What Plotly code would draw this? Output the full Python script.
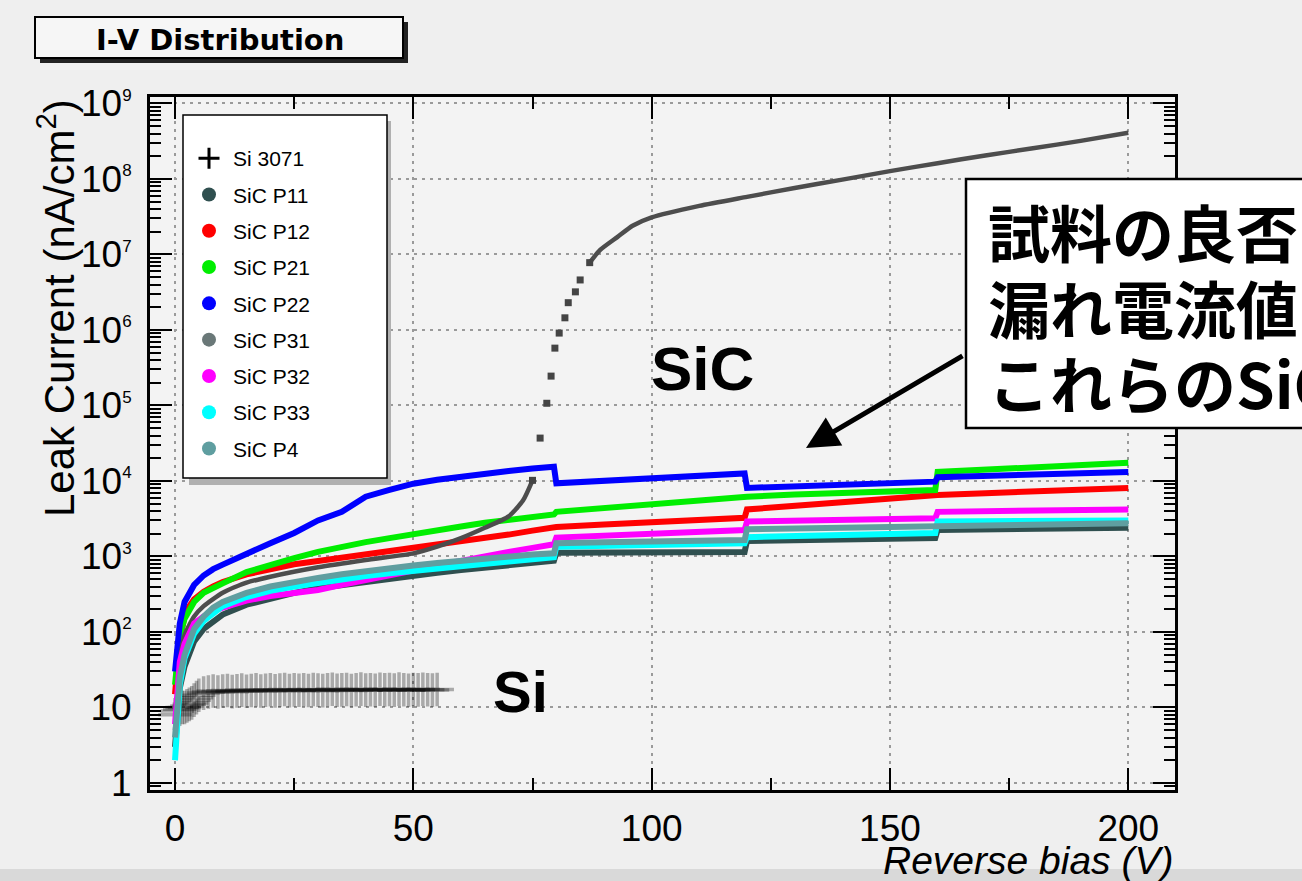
import plotly.graph_objects as go

# ---------------- data ----------------
SI_V = [0, 0.5, 1, 1.5, 2, 2.5, 3, 3.5, 4, 4.5, 5,
        6, 7, 8, 9, 10, 11, 12, 13, 14, 15, 16, 17, 18, 19, 20,
        21, 22, 23, 24, 25, 26, 27, 28, 29, 30, 31, 32, 33, 34, 35,
        36, 37, 38, 39, 40, 41, 42, 43, 44, 45, 46, 47, 48, 49, 50,
        51, 52, 53, 54, 55]
SI_I = [8.0, 9.0, 9.5, 10.0, 10.0, 10.5, 11.0, 11.5, 12.5, 13.5, 14.5,
        15.5, 16.0, 16.5, 16.0, 16.5, 16.8, 16.2, 16.6, 17.0, 16.4,
        16.8, 17.1, 16.5, 16.9, 17.2, 16.6, 17.0, 17.3, 16.7, 17.1,
        16.9, 17.2, 16.8, 17.3, 17.0, 16.7, 17.2, 17.4, 16.9, 17.1,
        17.3, 16.8, 17.2, 17.5, 17.0, 17.2, 16.9, 17.4, 17.1, 17.3,
        17.0, 17.5, 17.2, 16.9, 17.3, 17.1, 17.4, 17.2, 17.0, 17.3]

SIC_V = [0, 0.5, 1, 2, 3, 4, 6, 8, 10, 15, 20, 25, 30, 35, 40, 45, 50, 55, 60, 65,
         70, 75, 79.5, 80, 90, 100, 110, 119.5, 120, 130, 140, 150, 159.5, 160,
         170, 180, 190, 200]

P11 = [3, 10, 18, 35, 55, 75, 110, 140, 170, 230, 280, 330, 380, 420, 470, 510, 560, 610, 660, 710,
       770, 830, 880, 1120, 1130, 1140, 1145, 1150, 1600, 1640, 1680, 1720, 1750, 2250,
       2290, 2330, 2370, 2400]
P12 = [15, 40, 80, 160, 220, 270, 340, 400, 460, 580, 690, 790, 870, 960, 1050, 1150, 1270, 1420, 1580, 1750,
       1950, 2200, 2400, 2450, 2650, 2850, 3050, 3250, 4200, 4700, 5300, 5900, 6500, 6500,
       6900, 7300, 7700, 8100]
P21 = [20, 50, 90, 150, 200, 250, 330, 390, 440, 620, 780, 950, 1150, 1350, 1550, 1750, 2000, 2250, 2500, 2800,
       3100, 3400, 3600, 3900, 4400, 5000, 5600, 6200, 6200, 6600, 7000, 7300, 7600, 13200,
       14200, 15300, 16300, 17400]
P22 = [30, 80, 130, 250, 330, 420, 560, 680, 780, 1100, 1500, 2050, 3000, 3900, 6200, 7600, 9200, 10400, 11500, 12600,
       13600, 14600, 15400, 9300, 10000, 10900, 11800, 12600, 8100, 8500, 9000, 9400, 9800, 11200,
       11700, 12200, 12700, 13200]
P32 = [6, 20, 40, 70, 100, 130, 160, 190, 210, 260, 300, 330, 360, 420, 480, 560, 650, 760, 880, 1000,
       1150, 1300, 1450, 1780, 1880, 2000, 2120, 2240, 2900, 2980, 3050, 3130, 3200, 3900,
       3980, 4050, 4120, 4200]
P33 = [2, 8, 20, 45, 70, 95, 140, 180, 220, 290, 350, 400, 450, 500, 550, 600, 650, 700, 750, 800,
       860, 920, 980, 1350, 1390, 1420, 1460, 1500, 1800, 1860, 1920, 1990, 2050, 2900,
       2930, 2950, 2980, 3000]
P4 = [4, 12, 25, 50, 80, 110, 160, 210, 250, 330, 400, 460, 520, 580, 640, 700, 760, 820, 880, 940,
      1000, 1060, 1100, 1500, 1540, 1580, 1620, 1650, 2300, 2350, 2400, 2450, 2500, 2600,
      2640, 2680, 2720, 2750]

P31_V = [0, 1, 2, 4, 6, 10, 15, 20, 30, 40, 50, 55, 60, 65, 70, 73, 75, 76.6, 78, 78.9,
         79.7, 80.6, 81.8, 82.5, 84, 85, 87, 89.2, 92.8, 96, 100, 110, 120, 130, 140,
         150, 160, 170, 180, 190, 200]
P31 = [5, 40, 90, 160, 220, 330, 450, 540, 720, 900, 1100, 1350, 1750, 2400, 3400, 5500, 1.02e4, 3.7e4, 1.07e5, 2.45e5,
       5.75e5, 9.1e5, 1.45e6, 2.3e6, 3.2e6, 4.6e6, 7.8e6, 1.15e7, 1.7e7, 2.4e7, 3.1e7, 4.4e7, 5.8e7, 7.6e7, 9.8e7,
       1.27e8, 1.62e8, 2.05e8, 2.55e8, 3.2e8, 4.1e8]

SERIES = [("SiC P11", P11, "#2f4f4f"), ("SiC P12", P12, "#ff0000"), ("SiC P21", P21, "#00ee00"),
          ("SiC P22", P22, "#0000ff")]
SERIES_B = [("SiC P32", P32, "#ff00ff"), ("SiC P33", P33, "#00ffff"), ("SiC P4", P4, "#5f9ea0")]

X_TICKS = [0, 50, 100, 150, 200]
Y_TICKS = [1, 10, 1e2, 1e3, 1e4, 1e5, 1e6, 1e7, 1e8, 1e9]
Y_EXP = ["", "", "2", "3", "4", "5", "6", "7", "8", "9"]

# ---------------- layout helpers (pixel -> paper) ----------------
L, R, T, B = 150, 1175, 97, 790
W, H = 1302, 881


def px(x):
    return (x - L) / (R - L)


def py(y):
    return (B - y) / (B - T)


fig = go.Figure()

# Si 3071 crosses
fig.add_trace(go.Scatter(x=SI_V, y=SI_I, mode="markers", showlegend=False,
                         marker=dict(symbol="cross-thin", size=24,
                                     line=dict(width=3.5, color="rgba(0,0,0,0.3)"))))

for name, vals, col in SERIES:
    fig.add_trace(go.Scatter(x=SIC_V, y=vals, mode="lines", showlegend=False,
                             line=dict(color=col, width=6)))

# SiC P31: continuous parts as line, steep breakdown as dots
p31_line_x = [v if (v <= 75 or v >= 87) else None for v in P31_V]
p31_line_y = [i if (v <= 75 or v >= 87) else None for v, i in zip(P31_V, P31)]
p31_dot_x = [v for v in P31_V if 75 <= v <= 87]
p31_dot_y = [i for v, i in zip(P31_V, P31) if 75 <= v <= 87]
fig.add_trace(go.Scatter(x=p31_line_x, y=p31_line_y, mode="lines", showlegend=False,
                         connectgaps=False, line=dict(color="#4d4d4d", width=4.5, shape="spline",
                                                      smoothing=0.6)))
fig.add_trace(go.Scatter(x=p31_dot_x, y=p31_dot_y, mode="markers", showlegend=False,
                         marker=dict(color="#444444", size=7, symbol="square")))

for name, vals, col in SERIES_B:
    fig.add_trace(go.Scatter(x=SIC_V, y=vals, mode="lines", showlegend=False,
                             line=dict(color=col, width=6)))

# legend-only entries
LEG = [("Si 3071", "black", "cross-thin"), ("SiC P11", "#2f4f4f", "circle"),
       ("SiC P12", "#ff0000", "circle"), ("SiC P21", "#00ee00", "circle"),
       ("SiC P22", "#0000ff", "circle"), ("SiC P31", "#6a7878", "circle"),
       ("SiC P32", "#ff00ff", "circle"), ("SiC P33", "#00ffff", "circle"),
       ("SiC P4", "#5f9ea0", "circle")]
for i, (name, col, sym) in enumerate(LEG):
    if sym == "cross-thin":
        mk = dict(symbol=sym, size=15, line=dict(width=3, color=col))
    else:
        mk = dict(symbol=sym, size=14, color=col, line=dict(width=0))
    fig.add_trace(go.Scatter(x=[None], y=[None], mode="markers", name=name,
                             legendgroup="g%d" % i, marker=mk))

tickfont = dict(family="Liberation Sans, Arial, sans-serif", size=37, color="black")
ytext = []
for v, e in zip(Y_TICKS, Y_EXP):
    if v == 1:
        ytext.append("1")
    elif e == "":
        ytext.append("10")
    else:
        ytext.append("10<sup><span style='font-size:17px'>%s</span></sup>" % e)

fig.update_xaxes(range=[-5.25, 209.8], tickmode="array", tickvals=X_TICKS,
                 ticks="inside", ticklen=22, tickwidth=2, tickcolor="black",
                 showgrid=True, gridcolor="#9a9a9a", griddash="3px,5px", gridwidth=2,
                 showline=True, linewidth=3, linecolor="black", mirror="ticks",
                 zeroline=False, tickfont=tickfont, ticklabelstandoff=4,
                 minor=dict(ticks="inside", ticklen=12, tickwidth=2, tickcolor="black",
                            dtick=25, showgrid=False))
fig.update_yaxes(type="log", range=[-0.093, 9.086], tickmode="array", tickvals=Y_TICKS,
                 ticktext=ytext, ticks="inside", ticklen=22, tickwidth=2, tickcolor="black",
                 showgrid=True, gridcolor="#9a9a9a", griddash="3px,5px", gridwidth=2,
                 showline=True, linewidth=3, linecolor="black", mirror="ticks",
                 zeroline=False, tickfont=tickfont, ticklabelstandoff=8,
                 minor=dict(ticks="inside", ticklen=11, tickwidth=1.5, tickcolor="black",
                            dtick="D1", showgrid=False))

shapes = [
    # bottom strip
    dict(type="rect", xref="paper", yref="paper", x0=px(0), x1=px(W), y0=py(H), y1=py(869),
         fillcolor="#d9d9d9", line=dict(width=0), layer="below"),
    # title box shadow + box
    dict(type="rect", xref="paper", yref="paper", x0=px(40), x1=px(408), y0=py(63), y1=py(22),
         fillcolor="#222222", line=dict(width=0), layer="above"),
    dict(type="rect", xref="paper", yref="paper", x0=px(35), x1=px(403), y0=py(58), y1=py(17),
         fillcolor="#f6f6f6", line=dict(width=2, color="black"), layer="above"),
    # legend shadow + box
    dict(type="rect", xref="paper", yref="paper", x0=px(189), x1=px(391), y0=py(485), y1=py(121),
         fillcolor="#b0b0b0", line=dict(width=0), layer="above"),
    dict(type="rect", xref="paper", yref="paper", x0=px(183), x1=px(387), y0=py(478), y1=py(115),
         fillcolor="white", line=dict(width=1.5, color="black"), layer="above"),
    # Japanese note box
    dict(type="rect", xref="paper", yref="paper", x0=px(966), x1=px(1320), y0=py(428), y1=py(179),
         fillcolor="white", line=dict(width=2.5, color="black"), layer="above"),
]

ann = [
    dict(text="I-V Distribution", x=px(220), y=py(40), xref="paper", yref="paper",
         showarrow=False, xanchor="center", yanchor="middle",
         font=dict(family="DejaVu Sans", size=29, color="black", weight="bold")),
    dict(text="Leak Current (nA/cm<sup>2</sup>)", x=px(56), y=py(97), xref="paper", yref="paper",
         showarrow=False, textangle=-90, xanchor="center", yanchor="top",
         font=dict(family="Liberation Sans, Arial", size=42, color="black")),
    dict(text="<i>Reverse bias (V)</i>", x=px(1175), y=py(861), xref="paper", yref="paper",
         showarrow=False, xanchor="right", yanchor="middle",
         font=dict(family="Liberation Sans, Arial", size=39, color="black")),
    dict(text="<b>SiC</b>", x=px(702), y=py(369), xref="paper", yref="paper",
         showarrow=False, xanchor="center", yanchor="middle",
         font=dict(family="Liberation Sans, Arial", size=62, color="black")),
    dict(text="<b>Si</b>", x=px(520), y=py(691), xref="paper", yref="paper",
         showarrow=False, xanchor="center", yanchor="middle",
         font=dict(family="Liberation Sans, Arial", size=58, color="black")),
    dict(text="", x=px(806), y=py(448), xref="paper", yref="paper", ax=158, ay=-93,
         showarrow=True, arrowhead=2, arrowsize=1.3, arrowwidth=5, arrowcolor="black"),
]
for txt, yc in [("試料の良否", 231), ("漏れ電流値", 307), ("これらのSiC", 382)]:
    ann.append(dict(text=txt, x=px(986), y=py(yc), xref="paper", yref="paper",
                    showarrow=False, xanchor="left", yanchor="middle",
                    font=dict(family="Noto Sans CJK JP", size=62, color="black", weight="bold")))

fig.update_layout(width=W, height=H, autosize=False,
                  margin=dict(l=L, r=W - R, t=T, b=H - B),
                  paper_bgcolor="#efefef", plot_bgcolor="#f3f3f3",
                  shapes=shapes, annotations=ann, showlegend=True,
                  legend=dict(x=px(185), y=py(138), xanchor="left", yanchor="top",
                              bgcolor="rgba(0,0,0,0)", borderwidth=0, itemwidth=38,
                              tracegroupgap=6,
                              font=dict(family="Liberation Sans, Arial", size=21, color="black")))

fig.write_html("out.html")
